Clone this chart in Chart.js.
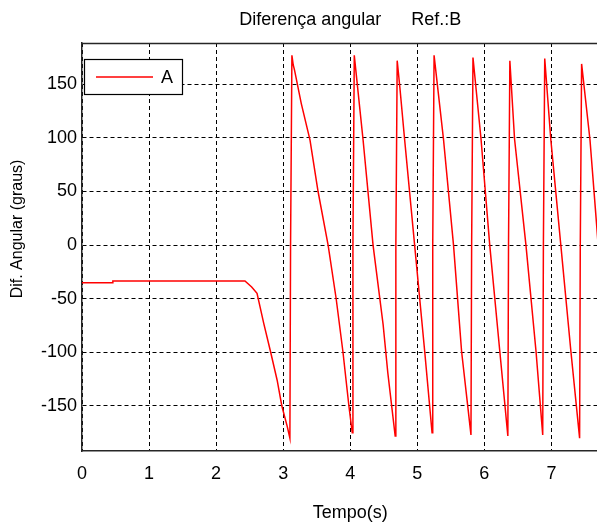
<!DOCTYPE html>
<html>
<head>
<meta charset="utf-8">
<script src="https://cdn.jsdelivr.net/npm/chart.js@4/dist/chart.umd.min.js"></script>
<style>
  html, body { margin: 0; padding: 0; background: #fff; overflow: hidden; }
  #wrap { width: 640px; height: 524px; }
</style>
</head>
<body>
<div id="wrap"><canvas id="angChart" width="640" height="524"></canvas></div>
<script>
// tempo (s) e diferenca angular (graus)
var tempo = [
    0, 0.45, 0.46, 2.43, 2.53, 2.61, 2.71, 2.81, 2.91, 2.98, 3.06, 3.10,
    3.11, 3.13, 3.15, 3.17, 3.27, 3.40, 3.52, 3.67, 3.79, 3.89, 3.98, 4.03,
    4.04, 4.06, 4.19, 4.34, 4.49, 4.56, 4.67,
    4.68, 4.70, 4.74, 4.81, 4.96, 5.11, 5.22,
    5.23, 5.25, 5.39, 5.54, 5.66, 5.80,
    5.81, 5.83, 5.95, 6.08, 6.23, 6.35,
    6.36, 6.38, 6.45, 6.62, 6.77, 6.87,
    6.88, 6.90, 6.99, 7.14, 7.29, 7.42,
    7.43, 7.45, 7.575, 7.675, 7.72
];
var difAngular = [
    -35, -35, -33.5, -33.5, -39, -45, -73, -99, -126, -150, -169, -180,
    0, 177, 168, 163, 132, 98, 50, 0, -50, -99, -150, -175,
    0, 177, 99, 0, -74, -119, -178,
    0, 172, 147, 99, 0, -99, -175,
    0, 177, 99, 0, -99, -177,
    0, 175, 99, 0, -99, -178,
    0, 172, 99, 0, -99, -177,
    0, 174, 99, 0, -99, -180,
    0, 169, 98, 18, -20
];
var serieNome = 'A';
var xTicks = { min: 0, max: 8, step: 1 };
var yTicks = { min: -192, max: 188.5, step: 50 };

var font = "'Liberation Sans', Arial, sans-serif";

var pts = tempo.map(function (t, i) { return { x: t, y: difAngular[i] }; });

// moldura superior + legenda dentro do grafico + rotulo y
var extras = {
    id: 'extras',
    afterDraw: function (chart) {
        var ctx = chart.ctx, a = chart.chartArea;
        ctx.save();
        ctx.strokeStyle = '#262626';
        ctx.lineWidth = 1.5;
        ctx.beginPath();
        ctx.moveTo(a.left, Math.round(a.top) + 0.5);
        ctx.lineTo(a.right, Math.round(a.top) + 0.5);
        ctx.stroke();

        // legenda
        ctx.fillStyle = '#fff';
        ctx.fillRect(84.5, 59.5, 98, 35);
        ctx.strokeStyle = '#000';
        ctx.lineWidth = 1.2;
        ctx.strokeRect(84.5, 59.5, 98, 35);
        ctx.strokeStyle = '#ff0000';
        ctx.lineWidth = 1.5;
        ctx.beginPath();
        ctx.moveTo(96, 77);
        ctx.lineTo(153, 77);
        ctx.stroke();
        ctx.fillStyle = '#000';
        ctx.font = '18px ' + font;
        ctx.textBaseline = 'middle';
        ctx.textAlign = 'left';
        ctx.fillText(chart.data.datasets[0].label, 161, 78);

        // rotulo do eixo y
        ctx.translate(17.5, 229);
        ctx.rotate(-Math.PI / 2);
        ctx.textAlign = 'center';
        ctx.font = '16px ' + font;
        ctx.fillText('Dif. Angular (graus)', 0, 0);
        ctx.restore();
    }
};

document.addEventListener('DOMContentLoaded', function () {
    var ctx = document.getElementById('angChart').getContext('2d');
    new Chart(ctx, {
        type: 'line',
        data: {
            datasets: [{
                label: serieNome,
                data: pts,
                borderColor: '#ff0000',
                borderWidth: 1.5,
                pointRadius: 0,
                tension: 0,
                fill: false
            }]
        },
        options: {
            responsive: false,
            animation: false,
            layout: { padding: { left: 0, right: 21.5, top: 0, bottom: 0 } },
            plugins: {
                legend: { display: false },
                tooltip: { enabled: false },
                title: {
                    display: true,
                    fullSize: false,
                    text: 'Diferença angular      Ref.:B',
                    color: '#000',
                    font: { family: font, size: 18, weight: 'normal' },
                    padding: { top: 9.2, bottom: 12.2 }
                }
            },
            scales: {
                x: {
                    type: 'linear',
                    min: xTicks.min,
                    max: xTicks.max,
                    afterFit: function (s) { s.height = 73; },
                    ticks: {
                        stepSize: xTicks.step,
                        includeBounds: false,
                        color: '#000',
                        padding: 12,
                        maxRotation: 0,
                        font: { family: font, size: 18 }
                    },
                    grid: { color: '#000', lineWidth: 1, drawTicks: false },
                    border: { display: true, color: '#262626', width: 1.5, dash: [4, 3] },
                    title: {
                        display: true,
                        text: 'Tempo(s)',
                        color: '#000',
                        font: { family: font, size: 18 },
                        padding: { top: 0, bottom: 0 }
                    }
                },
                y: {
                    min: yTicks.min,
                    max: yTicks.max,
                    afterFit: function (s) { s.width = 82; },
                    ticks: {
                        stepSize: yTicks.step,
                        includeBounds: false,
                        color: '#000',
                        padding: 5,
                        font: { family: font, size: 18 }
                    },
                    grid: { color: '#000', lineWidth: 1, drawTicks: false },
                    border: { display: true, color: '#262626', width: 1.5, dash: [4, 3] }
                }
            }
        },
        plugins: [extras]
    });
});
</script>
</body>
</html>
